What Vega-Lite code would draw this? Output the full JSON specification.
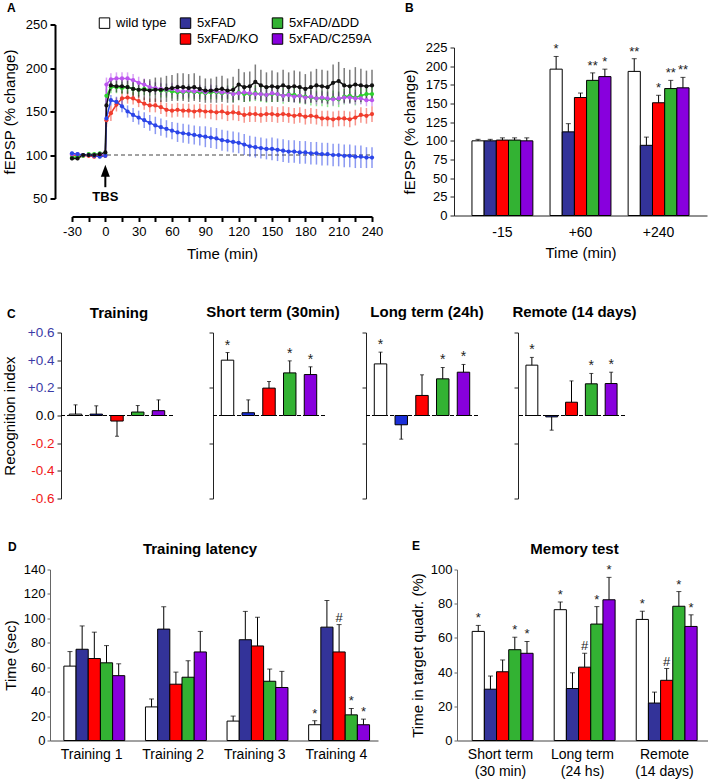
{
"$schema":"https://vega.github.io/schema/vega-lite/v6.json",
"padding":{"left":2,"top":1.5,"right":0,"bottom":0},
"background":"white",
"config":{
 "font":"Liberation Sans",
 "view":{"stroke":null},
 "axis":{"grid":false,"labelFontSize":13,"titleFontSize":15,"titleFontWeight":"normal","labelColor":"#000","titleColor":"#000","domainColor":"#333","tickColor":"#333","labelFont":"Liberation Sans","titleFont":"Liberation Sans","labelOverlap":false,"labelFlush":false},
 "title":{"fontSize":15,"fontWeight":"bold","color":"#000","baseline":"alphabetic","font":"Liberation Sans"},
 "legend":{"labelFont":"Liberation Sans"}
},
"datasets":{
 "ltp":[
{"g":"KO","t":-30,"v":100,"e":3},{"g":"KO","t":-25,"v":100,"e":2},{"g":"KO","t":-20,"v":99,"e":2},{"g":"KO","t":-15,"v":99,"e":2},{"g":"KO","t":-10,"v":98,"e":2},{"g":"KO","t":-5,"v":100,"e":2},{"g":"KO","t":0,"v":99,"e":2},{"g":"KO","t":1,"v":140,"e":8},{"g":"KO","t":5,"v":148,"e":9},{"g":"KO","t":10,"v":158,"e":8},{"g":"KO","t":15,"v":165,"e":8},{"g":"KO","t":20,"v":166,"e":7},{"g":"KO","t":25,"v":165,"e":7},{"g":"KO","t":30,"v":162,"e":7},{"g":"KO","t":35,"v":159,"e":7},{"g":"KO","t":40,"v":157,"e":8},{"g":"KO","t":45,"v":157,"e":8},{"g":"KO","t":50,"v":155,"e":8},{"g":"KO","t":55,"v":152,"e":8},{"g":"KO","t":60,"v":151,"e":8},{"g":"KO","t":65,"v":152,"e":8},{"g":"KO","t":70,"v":151,"e":8},{"g":"KO","t":75,"v":151,"e":8},{"g":"KO","t":80,"v":150,"e":8},{"g":"KO","t":85,"v":151,"e":8},{"g":"KO","t":90,"v":150,"e":8},{"g":"KO","t":95,"v":150,"e":9},{"g":"KO","t":100,"v":149,"e":9},{"g":"KO","t":105,"v":150,"e":9},{"g":"KO","t":110,"v":148,"e":9},{"g":"KO","t":115,"v":149,"e":9},{"g":"KO","t":120,"v":148,"e":9},{"g":"KO","t":125,"v":146,"e":9},{"g":"KO","t":130,"v":147,"e":9},{"g":"KO","t":135,"v":147,"e":9},{"g":"KO","t":140,"v":146,"e":9},{"g":"KO","t":145,"v":147,"e":9},{"g":"KO","t":150,"v":147,"e":9},{"g":"KO","t":155,"v":146,"e":9},{"g":"KO","t":160,"v":147,"e":9},{"g":"KO","t":165,"v":146,"e":9},{"g":"KO","t":170,"v":145,"e":9},{"g":"KO","t":175,"v":146,"e":9},{"g":"KO","t":180,"v":144,"e":9},{"g":"KO","t":185,"v":145,"e":9},{"g":"KO","t":190,"v":144,"e":9},{"g":"KO","t":195,"v":142,"e":9},{"g":"KO","t":200,"v":142,"e":9},{"g":"KO","t":205,"v":141,"e":9},{"g":"KO","t":210,"v":142,"e":9},{"g":"KO","t":215,"v":142,"e":9},{"g":"KO","t":220,"v":141,"e":9},{"g":"KO","t":225,"v":143,"e":9},{"g":"KO","t":230,"v":146,"e":9},{"g":"KO","t":235,"v":145,"e":9},{"g":"KO","t":240,"v":147,"e":9},
{"g":"DD","t":-30,"v":97,"e":2},{"g":"DD","t":-25,"v":98,"e":2},{"g":"DD","t":-20,"v":99,"e":2},{"g":"DD","t":-15,"v":101,"e":2},{"g":"DD","t":-10,"v":101,"e":2},{"g":"DD","t":-5,"v":102,"e":2},{"g":"DD","t":0,"v":101,"e":2},{"g":"DD","t":1,"v":168,"e":8},{"g":"DD","t":5,"v":178,"e":7},{"g":"DD","t":10,"v":178,"e":7},{"g":"DD","t":15,"v":177,"e":7},{"g":"DD","t":20,"v":178,"e":7},{"g":"DD","t":25,"v":176,"e":7},{"g":"DD","t":30,"v":175,"e":7},{"g":"DD","t":35,"v":176,"e":7},{"g":"DD","t":40,"v":175,"e":7},{"g":"DD","t":45,"v":176,"e":7},{"g":"DD","t":50,"v":174,"e":8},{"g":"DD","t":55,"v":174,"e":8},{"g":"DD","t":60,"v":173,"e":8},{"g":"DD","t":65,"v":172,"e":8},{"g":"DD","t":70,"v":172,"e":8},{"g":"DD","t":75,"v":173,"e":8},{"g":"DD","t":80,"v":172,"e":8},{"g":"DD","t":85,"v":172,"e":8},{"g":"DD","t":90,"v":171,"e":8},{"g":"DD","t":95,"v":172,"e":8},{"g":"DD","t":100,"v":172,"e":8},{"g":"DD","t":105,"v":171,"e":8},{"g":"DD","t":110,"v":172,"e":8},{"g":"DD","t":115,"v":170,"e":9},{"g":"DD","t":120,"v":172,"e":9},{"g":"DD","t":125,"v":170,"e":9},{"g":"DD","t":130,"v":170,"e":9},{"g":"DD","t":135,"v":171,"e":9},{"g":"DD","t":140,"v":170,"e":9},{"g":"DD","t":145,"v":169,"e":9},{"g":"DD","t":150,"v":170,"e":9},{"g":"DD","t":155,"v":170,"e":9},{"g":"DD","t":160,"v":168,"e":9},{"g":"DD","t":165,"v":170,"e":9},{"g":"DD","t":170,"v":169,"e":9},{"g":"DD","t":175,"v":168,"e":9},{"g":"DD","t":180,"v":167,"e":9},{"g":"DD","t":185,"v":166,"e":9},{"g":"DD","t":190,"v":165,"e":9},{"g":"DD","t":195,"v":165,"e":9},{"g":"DD","t":200,"v":164,"e":9},{"g":"DD","t":205,"v":165,"e":9},{"g":"DD","t":210,"v":164,"e":9},{"g":"DD","t":215,"v":167,"e":9},{"g":"DD","t":220,"v":168,"e":9},{"g":"DD","t":225,"v":166,"e":9},{"g":"DD","t":230,"v":168,"e":9},{"g":"DD","t":235,"v":170,"e":9},{"g":"DD","t":240,"v":170,"e":9},
{"g":"CA","t":-30,"v":101,"e":2},{"g":"CA","t":-25,"v":101,"e":2},{"g":"CA","t":-20,"v":100,"e":2},{"g":"CA","t":-15,"v":100,"e":2},{"g":"CA","t":-10,"v":100,"e":2},{"g":"CA","t":-5,"v":101,"e":2},{"g":"CA","t":0,"v":100,"e":2},{"g":"CA","t":1,"v":181,"e":8},{"g":"CA","t":5,"v":187,"e":7},{"g":"CA","t":10,"v":188,"e":7},{"g":"CA","t":15,"v":188,"e":7},{"g":"CA","t":20,"v":188,"e":7},{"g":"CA","t":25,"v":186,"e":7},{"g":"CA","t":30,"v":183,"e":7},{"g":"CA","t":35,"v":181,"e":7},{"g":"CA","t":40,"v":178,"e":7},{"g":"CA","t":45,"v":177,"e":7},{"g":"CA","t":50,"v":176,"e":7},{"g":"CA","t":55,"v":175,"e":7},{"g":"CA","t":60,"v":176,"e":7},{"g":"CA","t":65,"v":174,"e":7},{"g":"CA","t":70,"v":173,"e":7},{"g":"CA","t":75,"v":174,"e":7},{"g":"CA","t":80,"v":173,"e":7},{"g":"CA","t":85,"v":174,"e":7},{"g":"CA","t":90,"v":172,"e":7},{"g":"CA","t":95,"v":174,"e":7},{"g":"CA","t":100,"v":173,"e":7},{"g":"CA","t":105,"v":172,"e":7},{"g":"CA","t":110,"v":172,"e":7},{"g":"CA","t":115,"v":170,"e":7},{"g":"CA","t":120,"v":171,"e":7},{"g":"CA","t":125,"v":172,"e":7},{"g":"CA","t":130,"v":171,"e":7},{"g":"CA","t":135,"v":170,"e":7},{"g":"CA","t":140,"v":170,"e":7},{"g":"CA","t":145,"v":169,"e":7},{"g":"CA","t":150,"v":171,"e":7},{"g":"CA","t":155,"v":170,"e":7},{"g":"CA","t":160,"v":168,"e":7},{"g":"CA","t":165,"v":169,"e":7},{"g":"CA","t":170,"v":167,"e":7},{"g":"CA","t":175,"v":168,"e":7},{"g":"CA","t":180,"v":166,"e":7},{"g":"CA","t":185,"v":167,"e":7},{"g":"CA","t":190,"v":165,"e":7},{"g":"CA","t":195,"v":166,"e":7},{"g":"CA","t":200,"v":165,"e":7},{"g":"CA","t":205,"v":164,"e":7},{"g":"CA","t":210,"v":165,"e":7},{"g":"CA","t":215,"v":166,"e":7},{"g":"CA","t":220,"v":166,"e":7},{"g":"CA","t":225,"v":165,"e":7},{"g":"CA","t":230,"v":165,"e":7},{"g":"CA","t":235,"v":163,"e":7},{"g":"CA","t":240,"v":163,"e":7},
{"g":"FAD","t":-30,"v":102,"e":2},{"g":"FAD","t":-25,"v":101,"e":2},{"g":"FAD","t":-20,"v":100,"e":2},{"g":"FAD","t":-15,"v":100,"e":2},{"g":"FAD","t":-10,"v":99,"e":2},{"g":"FAD","t":-5,"v":98,"e":2},{"g":"FAD","t":0,"v":99,"e":2},{"g":"FAD","t":1,"v":142,"e":6},{"g":"FAD","t":5,"v":163,"e":6},{"g":"FAD","t":10,"v":161,"e":6},{"g":"FAD","t":15,"v":156,"e":7},{"g":"FAD","t":20,"v":150,"e":7},{"g":"FAD","t":25,"v":146,"e":8},{"g":"FAD","t":30,"v":143,"e":8},{"g":"FAD","t":35,"v":140,"e":9},{"g":"FAD","t":40,"v":137,"e":9},{"g":"FAD","t":45,"v":134,"e":10},{"g":"FAD","t":50,"v":132,"e":10},{"g":"FAD","t":55,"v":130,"e":10},{"g":"FAD","t":60,"v":128,"e":10},{"g":"FAD","t":65,"v":126,"e":11},{"g":"FAD","t":70,"v":125,"e":11},{"g":"FAD","t":75,"v":124,"e":11},{"g":"FAD","t":80,"v":123,"e":11},{"g":"FAD","t":85,"v":122,"e":11},{"g":"FAD","t":90,"v":121,"e":12},{"g":"FAD","t":95,"v":120,"e":12},{"g":"FAD","t":100,"v":119,"e":12},{"g":"FAD","t":105,"v":117,"e":12},{"g":"FAD","t":110,"v":116,"e":12},{"g":"FAD","t":115,"v":115,"e":12},{"g":"FAD","t":120,"v":114,"e":12},{"g":"FAD","t":125,"v":112,"e":12},{"g":"FAD","t":130,"v":110,"e":12},{"g":"FAD","t":135,"v":109,"e":12},{"g":"FAD","t":140,"v":108,"e":12},{"g":"FAD","t":145,"v":107,"e":12},{"g":"FAD","t":150,"v":107,"e":13},{"g":"FAD","t":155,"v":106,"e":13},{"g":"FAD","t":160,"v":105,"e":13},{"g":"FAD","t":165,"v":104,"e":13},{"g":"FAD","t":170,"v":104,"e":13},{"g":"FAD","t":175,"v":103,"e":13},{"g":"FAD","t":180,"v":103,"e":13},{"g":"FAD","t":185,"v":102,"e":13},{"g":"FAD","t":190,"v":102,"e":13},{"g":"FAD","t":195,"v":101,"e":13},{"g":"FAD","t":200,"v":101,"e":13},{"g":"FAD","t":205,"v":100,"e":13},{"g":"FAD","t":210,"v":100,"e":13},{"g":"FAD","t":215,"v":99,"e":13},{"g":"FAD","t":220,"v":99,"e":13},{"g":"FAD","t":225,"v":98,"e":13},{"g":"FAD","t":230,"v":98,"e":13},{"g":"FAD","t":235,"v":97,"e":12},{"g":"FAD","t":240,"v":97,"e":12},
{"g":"WT","t":-30,"v":96,"e":2},{"g":"WT","t":-25,"v":96,"e":2},{"g":"WT","t":-20,"v":100,"e":2},{"g":"WT","t":-15,"v":100,"e":2},{"g":"WT","t":-10,"v":100,"e":2},{"g":"WT","t":-5,"v":101,"e":2},{"g":"WT","t":0,"v":103,"e":2},{"g":"WT","t":1,"v":157,"e":8},{"g":"WT","t":5,"v":180,"e":6},{"g":"WT","t":10,"v":179,"e":7},{"g":"WT","t":15,"v":179,"e":8},{"g":"WT","t":20,"v":178,"e":8},{"g":"WT","t":25,"v":176,"e":9},{"g":"WT","t":30,"v":175,"e":9},{"g":"WT","t":35,"v":175,"e":12},{"g":"WT","t":40,"v":174,"e":13},{"g":"WT","t":45,"v":175,"e":14},{"g":"WT","t":50,"v":175,"e":14},{"g":"WT","t":55,"v":176,"e":15},{"g":"WT","t":60,"v":177,"e":15},{"g":"WT","t":65,"v":178,"e":16},{"g":"WT","t":70,"v":178,"e":16},{"g":"WT","t":75,"v":177,"e":16},{"g":"WT","t":80,"v":178,"e":16},{"g":"WT","t":85,"v":176,"e":15},{"g":"WT","t":90,"v":174,"e":14},{"g":"WT","t":95,"v":174,"e":14},{"g":"WT","t":100,"v":175,"e":15},{"g":"WT","t":105,"v":176,"e":15},{"g":"WT","t":110,"v":174,"e":14},{"g":"WT","t":115,"v":175,"e":15},{"g":"WT","t":120,"v":181,"e":18},{"g":"WT","t":125,"v":178,"e":17},{"g":"WT","t":130,"v":179,"e":17},{"g":"WT","t":135,"v":184,"e":20},{"g":"WT","t":140,"v":180,"e":18},{"g":"WT","t":145,"v":178,"e":17},{"g":"WT","t":150,"v":179,"e":18},{"g":"WT","t":155,"v":178,"e":17},{"g":"WT","t":160,"v":180,"e":18},{"g":"WT","t":165,"v":178,"e":17},{"g":"WT","t":170,"v":179,"e":18},{"g":"WT","t":175,"v":178,"e":18},{"g":"WT","t":180,"v":176,"e":17},{"g":"WT","t":185,"v":178,"e":18},{"g":"WT","t":190,"v":180,"e":19},{"g":"WT","t":195,"v":179,"e":19},{"g":"WT","t":200,"v":178,"e":19},{"g":"WT","t":205,"v":183,"e":21},{"g":"WT","t":210,"v":185,"e":22},{"g":"WT","t":215,"v":180,"e":20},{"g":"WT","t":220,"v":179,"e":19},{"g":"WT","t":225,"v":181,"e":20},{"g":"WT","t":230,"v":180,"e":19},{"g":"WT","t":235,"v":179,"e":18},{"g":"WT","t":240,"v":180,"e":18}
 ],
 "b":[
{"t":"-15","g":"wild type","v":100,"hi":102},{"t":"-15","g":"5xFAD","v":100,"hi":102},{"t":"-15","g":"5xFAD/KO","v":101,"hi":104},{"t":"-15","g":"5xFAD/ΔDD","v":101,"hi":104},{"t":"-15","g":"5xFAD/C259A","v":100,"hi":104},
{"t":"+60","g":"wild type","v":196,"hi":213,"s":"*"},{"t":"+60","g":"5xFAD","v":112,"hi":123},{"t":"+60","g":"5xFAD/KO","v":158,"hi":164},{"t":"+60","g":"5xFAD/ΔDD","v":181,"hi":191,"s":"**"},{"t":"+60","g":"5xFAD/C259A","v":186,"hi":196,"s":"*"},
{"t":"+240","g":"wild type","v":193,"hi":210,"s":"**"},{"t":"+240","g":"5xFAD","v":94,"hi":105},{"t":"+240","g":"5xFAD/KO","v":151,"hi":161,"s":"*"},{"t":"+240","g":"5xFAD/ΔDD","v":170,"hi":181,"s":"**"},{"t":"+240","g":"5xFAD/C259A","v":171,"hi":185,"s":"**"}
 ],
 "c":[
{"p":"Training","g":"wild type","v":0.01,"hi":0.077},{"p":"Training","g":"5xFAD","v":0.01,"hi":0.07},{"p":"Training","g":"5xFAD/KO","v":-0.04,"hi":-0.15},{"p":"Training","g":"5xFAD/ΔDD","v":0.025,"hi":0.072},{"p":"Training","g":"5xFAD/C259A","v":0.035,"hi":0.113},
{"p":"Short","g":"wild type","v":0.4,"hi":0.455,"s":"*"},{"p":"Short","g":"5xFAD","v":0.02,"hi":0.113},{"p":"Short","g":"5xFAD/KO","v":0.198,"hi":0.246},{"p":"Short","g":"5xFAD/ΔDD","v":0.308,"hi":0.395,"s":"*"},{"p":"Short","g":"5xFAD/C259A","v":0.296,"hi":0.352,"s":"*"},
{"p":"Long","g":"wild type","v":0.373,"hi":0.458,"s":"*"},{"p":"Long","g":"5xFAD","v":-0.067,"hi":-0.171},{"p":"Long","g":"5xFAD/KO","v":0.145,"hi":0.294},{"p":"Long","g":"5xFAD/ΔDD","v":0.265,"hi":0.347,"s":"*"},{"p":"Long","g":"5xFAD/C259A","v":0.313,"hi":0.369,"s":"*"},
{"p":"Remote","g":"wild type","v":0.364,"hi":0.42,"s":"*"},{"p":"Remote","g":"5xFAD","v":-0.01,"hi":-0.106},{"p":"Remote","g":"5xFAD/KO","v":0.096,"hi":0.25},{"p":"Remote","g":"5xFAD/ΔDD","v":0.229,"hi":0.304,"s":"*"},{"p":"Remote","g":"5xFAD/C259A","v":0.231,"hi":0.313,"s":"*"}
 ],
 "d":[
{"c":"Training 1","g":"wild type","v":60.9,"hi":72.8},{"c":"Training 1","g":"5xFAD","v":74.7,"hi":93.8},{"c":"Training 1","g":"5xFAD/KO","v":67.1,"hi":88.7},{"c":"Training 1","g":"5xFAD/ΔDD","v":63.6,"hi":77.7},{"c":"Training 1","g":"5xFAD/C259A","v":53.1,"hi":62.8},
{"c":"Training 2","g":"wild type","v":27.5,"hi":34},{"c":"Training 2","g":"5xFAD","v":91.2,"hi":109.5},{"c":"Training 2","g":"5xFAD/KO","v":46.1,"hi":56},{"c":"Training 2","g":"5xFAD/ΔDD","v":51.8,"hi":65.3},{"c":"Training 2","g":"5xFAD/C259A","v":72.5,"hi":89.3},
{"c":"Training 3","g":"wild type","v":15.9,"hi":20},{"c":"Training 3","g":"5xFAD","v":82.5,"hi":105.7},{"c":"Training 3","g":"5xFAD/KO","v":77.4,"hi":100.9},{"c":"Training 3","g":"5xFAD/ΔDD","v":48.5,"hi":58.5},{"c":"Training 3","g":"5xFAD/C259A","v":43.4,"hi":56.6},
{"c":"Training 4","g":"wild type","v":12.9,"hi":16.2,"s":"*"},{"c":"Training 4","g":"5xFAD","v":92.8,"hi":114.6},{"c":"Training 4","g":"5xFAD/KO","v":72.5,"hi":94.9,"s":"#"},{"c":"Training 4","g":"5xFAD/ΔDD","v":21,"hi":26.2,"s":"*"},{"c":"Training 4","g":"5xFAD/C259A","v":12.9,"hi":17.5,"s":"*"}
 ],
 "e":[
{"c":"Short term|(30 min)","g":"wild type","v":63.8,"hi":67.3,"s":"*"},{"c":"Short term|(30 min)","g":"5xFAD","v":30,"hi":37.7},{"c":"Short term|(30 min)","g":"5xFAD/KO","v":40.2,"hi":47.1},{"c":"Short term|(30 min)","g":"5xFAD/ΔDD","v":53.1,"hi":60.4,"s":"*"},{"c":"Short term|(30 min)","g":"5xFAD/C259A","v":51,"hi":57.9,"s":"*"},
{"c":"Long term|(24 hs)","g":"wild type","v":76.5,"hi":81,"s":"*"},{"c":"Long term|(24 hs)","g":"5xFAD","v":30.4,"hi":39.6},{"c":"Long term|(24 hs)","g":"5xFAD/KO","v":42.9,"hi":51,"s":"#"},{"c":"Long term|(24 hs)","g":"5xFAD/ΔDD","v":68.1,"hi":78.3,"s":"*"},{"c":"Long term|(24 hs)","g":"5xFAD/C259A","v":82.3,"hi":95.4,"s":"*"},
{"c":"Remote|(14 days)","g":"wild type","v":70.8,"hi":75.6,"s":"*"},{"c":"Remote|(14 days)","g":"5xFAD","v":21.9,"hi":28.3},{"c":"Remote|(14 days)","g":"5xFAD/KO","v":35.2,"hi":42.1,"s":"#"},{"c":"Remote|(14 days)","g":"5xFAD/ΔDD","v":78.5,"hi":87.1,"s":"*"},{"c":"Remote|(14 days)","g":"5xFAD/C259A","v":66.7,"hi":73.5,"s":"*"}
 ]
},
"resolve":{"scale":{"color":"independent"}},
"spacing":0,
"vconcat":[
 {"bounds":"flush","spacing":0,"hconcat":[
  {"width":23,"height":174,"data":{"values":[]},"mark":"point","encoding":{},"title":{"text":"A","fontSize":12,"anchor":"start","frame":"group","align":"left","offset":9.5,"dx":-42}},
  {"width":300,"height":174,
   "encoding":{
    "x":{"field":"t","type":"quantitative","title":"Time (min)","scale":{"domain":[-30,240],"nice":false,"zero":false},
         "axis":{"values":[-30,-15,0,15,30,45,60,75,90,105,120,135,150,165,180,195,210,225,240],"labelExpr":"datum.value % 30 === 0 ? replace(datum.label, '\u2212', '-') : ''","labelFlush":false,"offset":18,"domainColor":"#000","domainWidth":2,"tickColor":"#000","tickWidth":2,"tickSize":5,"labelPadding":4,"titlePadding":8}},
    "y":{"field":"v","type":"quantitative","title":"fEPSP (% change)","scale":{"domain":[50,250],"nice":false,"zero":false},
         "axis":{"values":[50,100,150,200,250],"offset":17,"domainColor":"#000","domainWidth":2,"tickColor":"#000","tickWidth":2,"tickSize":5,"labelPadding":3,"titlePadding":8}}
   },
   "layer":[
    {"data":{"values":[{"t":-30,"t2":240,"v":100}]},"mark":{"type":"rule","strokeDash":[4,3],"color":"#444","strokeWidth":1},"encoding":{"x2":{"field":"t2"}}},
    {"data":{"name":"ltp"},"mark":{"type":"errorbar","ticks":false,"thickness":1.5,"opacity":0.55},"encoding":{"yError":{"field":"e"},"color":{"field":"g","type":"nominal","scale":{"domain":["WT","FAD","KO","DD","CA"],"range":["#111111","#2b45e8","#f03c2c","#2dd12d","#bb55ee"]},"legend":null}}},
    {"data":{"name":"ltp"},"mark":{"type":"line","strokeWidth":1.5},"encoding":{"color":{"field":"g","type":"nominal","scale":{"domain":["WT","FAD","KO","DD","CA"],"range":["#111111","#2b45e8","#f03c2c","#2dd12d","#bb55ee"]},"legend":null}}},
    {"data":{"name":"ltp"},"mark":{"type":"point","filled":true,"size":18,"opacity":1},"encoding":{"color":{"field":"g","type":"nominal","scale":{"domain":["WT","FAD","KO","DD","CA"],"range":["#111111","#2b45e8","#f03c2c","#2dd12d","#bb55ee"]},"legend":null}}},
    {"data":{"values":[{"t":0,"v":63,"v2":82}]},"mark":{"type":"rule","color":"#000","strokeWidth":2},"encoding":{"y2":{"field":"v2"}}},
    {"data":{"values":[{"t":0,"v":82}]},"mark":{"type":"point","shape":"M0,-1L0.75,1L-0.75,1Z","size":144,"filled":true,"color":"#000","opacity":1}},
    {"data":{"values":[{"t":0,"v":51.5,"label":"TBS"}]},"mark":{"type":"text","fontSize":13,"fontWeight":"bold","baseline":"middle","color":"#000"},"encoding":{"text":{"field":"label"}}}
   ]
  },
  {"width":82,"height":1,"data":{"values":[]},"mark":"point","encoding":{}},
  {"bounds":"flush","spacing":0,"vconcat":[
   {"width":253,"height":23,"data":{"values":[]},"mark":"point","encoding":{},"title":{"text":"B","fontSize":12,"anchor":"start","frame":"group","align":"left","offset":9.5,"dx":-49}},
   {"width":253,"height":168,"data":{"name":"b"},
    "encoding":{
     "x":{"field":"t","type":"nominal","title":"Time (min)","scale":{"domain":["-15","+60","+240"],"paddingInner":0.22,"paddingOuter":0.23},"axis":{"labelAngle":0,"ticks":false,"labelPadding":10,"labelFontSize":14,"titlePadding":6,"domainColor":"#222"}},
     "xOffset":{"field":"g","type":"nominal","scale":{"domain":["wild type","5xFAD","5xFAD/KO","5xFAD/ΔDD","5xFAD/C259A"],"paddingInner":0,"paddingOuter":0}},
     "y":{"field":"v","type":"quantitative","title":"fEPSP (% change)","scale":{"domain":[0,225],"nice":false},"axis":{"values":[0,25,50,75,100,125,150,175,200,225],"tickSize":4,"labelPadding":3,"titlePadding":8,"domainColor":"#222","tickColor":"#222"}}
    },
    "layer":[
     {"mark":{"type":"bar","stroke":"#000","strokeWidth":1},"encoding":{"fill":{"field":"g","type":"nominal","scale":{"domain":["wild type","5xFAD","5xFAD/ΔDD"," ","5xFAD/KO","5xFAD/C259A"],"range":["#ffffff","#333399","#33b233","#ffffff","#ff0000","#8800dd"]},
       "legend":{"orient":"none","legendX":49,"legendY":-8,"direction":"horizontal","columns":3,"title":null,"symbolType":"square","symbolSize":110,"labelFontSize":13,"labelColor":"#000","labelOffset":5,"columnPadding":11,"rowPadding":1,"symbolStrokeColor":"#000","symbolStrokeWidth":1,
        "encode":{"symbols":{"update":{"opacity":{"signal":"datum.value === ' ' ? 0 : 1"},"stroke":{"value":"#000"},"strokeWidth":{"value":1}}}}}}}},
     {"mark":{"type":"rule","color":"#000","strokeWidth":1},"encoding":{"y2":{"field":"hi"}}},
     {"mark":{"type":"tick","color":"#000","thickness":1,"size":5},"encoding":{"y":{"field":"hi","type":"quantitative"}}},
     {"transform":[{"filter":"isValid(datum.s)"}],"mark":{"type":"text","dy":-3,"fontSize":13,"color":"#222","baseline":"alphabetic"},"encoding":{"y":{"field":"hi","type":"quantitative"},"text":{"field":"s"}}}
    ]
   }
  ]}
 ]},
 {"width":1,"height":43,"data":{"values":[]},"mark":"point","encoding":{}},
 {"bounds":"flush","spacing":0,"hconcat":[
  {"width":12,"height":166,"data":{"values":[]},"mark":"point","encoding":{},"title":{"text":"C","fontSize":12,"anchor":"start","frame":"group","align":"left","offset":12,"dx":-42}},
  {"width":112,"height":166,"data":{"name":"c"},"transform":[{"filter":"datum.p === 'Training'"}],
   "title":{"text":"Training","anchor":"middle","frame":"group","offset":5,"dx":2},
   "encoding":{
     "y":{"field":"v","type":"quantitative","title":"Recognition index","scale":{"domain":[-0.6,0.6],"nice":false,"zero":false},
          "axis":{"values":[-0.6,-0.4,-0.2,0,0.2,0.4,0.6],"labelExpr":"datum.value > 0.001 ? '+' + format(datum.value, '.1f') : replace(format(datum.value, '.1f'), '\u2212', '-')","labelOverlap":false,"labelFontSize":13.5,"tickSize":4,"labelPadding":3,"titlePadding":10,"domainColor":"#222","tickColor":"#222",
                  "labelColor":{"condition":[{"test":"datum.value > 0.001","value":"#3a3aa6"},{"test":"datum.value < -0.001","value":"#f01818"}],"value":"#000000"}}}
   },
   "layer":[
    {"data":{"values":[{"v":0}]},"mark":{"type":"rule","strokeDash":[4,2],"color":"#000","strokeWidth":1}},
    {"mark":{"type":"bar","stroke":"#000","strokeWidth":1},"encoding":{
      "x":{"field":"g","type":"nominal","scale":{"domain":["wild type","5xFAD","5xFAD/KO","5xFAD/ΔDD","5xFAD/C259A"],"paddingInner":0.4,"paddingOuter":0.4},"axis":null},
      "color":{"field":"g","type":"nominal","scale":{"domain":["wild type","5xFAD","5xFAD/KO","5xFAD/ΔDD","5xFAD/C259A"],"range":["#ffffff","#1a2fd8","#ff0000","#33b233","#8800dd"]},"legend":null}}},
    {"mark":{"type":"rule","color":"#000","strokeWidth":1},"encoding":{"x":{"field":"g","type":"nominal"},"y2":{"field":"hi"}}},
    {"transform":[{"fold":["hi"],"as":["k","v"]}],"mark":{"type":"tick","color":"#000","thickness":1,"size":4},"encoding":{"x":{"field":"g","type":"nominal"}}},
    {"transform":[{"filter":"isValid(datum.s)"},{"fold":["hi"],"as":["k","v"]}],"mark":{"type":"text","dy":-3,"fontSize":14,"color":"#222","baseline":"alphabetic"},"encoding":{"x":{"field":"g","type":"nominal"},"text":{"field":"s"}}}
   ]},
  {"width":40,"height":1,"data":{"values":[]},"mark":"point","encoding":{}},
  {"width":112,"height":166,"data":{"name":"c"},"transform":[{"filter":"datum.p === 'Short'"}],
   "title":{"text":"Short term (30min)","anchor":"middle","frame":"group","offset":12,"dx":4},
   "layer":[
    {"data":{"values":[{}]},"mark":{"type":"rule","strokeDash":[4,2],"color":"#000","strokeWidth":1},"encoding":{"y":{"datum":0,"type":"quantitative"}}},
    {"mark":{"type":"bar","stroke":"#000","strokeWidth":1},"encoding":{
      "x":{"field":"g","type":"nominal","scale":{"domain":["wild type","5xFAD","5xFAD/KO","5xFAD/ΔDD","5xFAD/C259A"],"paddingInner":0.4,"paddingOuter":0.4},"axis":null},
      "y":{"field":"v","type":"quantitative","title":null,"scale":{"domain":[-0.6,0.6],"nice":false,"zero":false},"axis":{"values":[-0.6,-0.4,-0.2,0,0.2,0.4,0.6],"labels":false,"tickSize":4,"domainColor":"#222","tickColor":"#222"}},
      "color":{"field":"g","type":"nominal","scale":{"domain":["wild type","5xFAD","5xFAD/KO","5xFAD/ΔDD","5xFAD/C259A"],"range":["#ffffff","#1a2fd8","#ff0000","#33b233","#8800dd"]},"legend":null}}},
    {"mark":{"type":"rule","color":"#000","strokeWidth":1},"encoding":{"x":{"field":"g","type":"nominal"},"y":{"field":"v","type":"quantitative"},"y2":{"field":"hi"}}},
    {"mark":{"type":"tick","color":"#000","thickness":1,"size":4},"encoding":{"x":{"field":"g","type":"nominal"},"y":{"field":"hi","type":"quantitative"}}},
    {"transform":[{"filter":"isValid(datum.s)"}],"mark":{"type":"text","dy":-3,"fontSize":14,"color":"#222","baseline":"alphabetic"},"encoding":{"x":{"field":"g","type":"nominal"},"y":{"field":"hi","type":"quantitative"},"text":{"field":"s"}}}
   ]},
  {"width":41,"height":1,"data":{"values":[]},"mark":"point","encoding":{}},
  {"width":112,"height":166,"data":{"name":"c"},"transform":[{"filter":"datum.p === 'Long'"}],
   "title":{"text":"Long term (24h)","anchor":"middle","frame":"group","offset":12,"dx":5},
   "layer":[
    {"data":{"values":[{}]},"mark":{"type":"rule","strokeDash":[4,2],"color":"#000","strokeWidth":1},"encoding":{"y":{"datum":0,"type":"quantitative"}}},
    {"mark":{"type":"bar","stroke":"#000","strokeWidth":1},"encoding":{
      "x":{"field":"g","type":"nominal","scale":{"domain":["wild type","5xFAD","5xFAD/KO","5xFAD/ΔDD","5xFAD/C259A"],"paddingInner":0.4,"paddingOuter":0.4},"axis":null},
      "y":{"field":"v","type":"quantitative","title":null,"scale":{"domain":[-0.6,0.6],"nice":false,"zero":false},"axis":{"values":[-0.6,-0.4,-0.2,0,0.2,0.4,0.6],"labels":false,"tickSize":4,"domainColor":"#222","tickColor":"#222"}},
      "color":{"field":"g","type":"nominal","scale":{"domain":["wild type","5xFAD","5xFAD/KO","5xFAD/ΔDD","5xFAD/C259A"],"range":["#ffffff","#1a2fd8","#ff0000","#33b233","#8800dd"]},"legend":null}}},
    {"mark":{"type":"rule","color":"#000","strokeWidth":1},"encoding":{"x":{"field":"g","type":"nominal"},"y":{"field":"v","type":"quantitative"},"y2":{"field":"hi"}}},
    {"mark":{"type":"tick","color":"#000","thickness":1,"size":4},"encoding":{"x":{"field":"g","type":"nominal"},"y":{"field":"hi","type":"quantitative"}}},
    {"transform":[{"filter":"isValid(datum.s)"}],"mark":{"type":"text","dy":-3,"fontSize":14,"color":"#222","baseline":"alphabetic"},"encoding":{"x":{"field":"g","type":"nominal"},"y":{"field":"hi","type":"quantitative"},"text":{"field":"s"}}}
   ]},
  {"width":40,"height":1,"data":{"values":[]},"mark":"point","encoding":{}},
  {"width":107,"height":166,"data":{"name":"c"},"transform":[{"filter":"datum.p === 'Remote'"}],
   "title":{"text":"Remote (14 days)","anchor":"middle","frame":"group","offset":12,"dx":3},
   "layer":[
    {"data":{"values":[{}]},"mark":{"type":"rule","strokeDash":[4,2],"color":"#000","strokeWidth":1},"encoding":{"y":{"datum":0,"type":"quantitative"}}},
    {"mark":{"type":"bar","stroke":"#000","strokeWidth":1},"encoding":{
      "x":{"field":"g","type":"nominal","scale":{"domain":["wild type","5xFAD","5xFAD/KO","5xFAD/ΔDD","5xFAD/C259A"],"paddingInner":0.4,"paddingOuter":0.4},"axis":null},
      "y":{"field":"v","type":"quantitative","title":null,"scale":{"domain":[-0.6,0.6],"nice":false,"zero":false},"axis":{"values":[-0.6,-0.4,-0.2,0,0.2,0.4,0.6],"labels":false,"tickSize":4,"domainColor":"#222","tickColor":"#222"}},
      "color":{"field":"g","type":"nominal","scale":{"domain":["wild type","5xFAD","5xFAD/KO","5xFAD/ΔDD","5xFAD/C259A"],"range":["#ffffff","#1a2fd8","#ff0000","#33b233","#8800dd"]},"legend":null}}},
    {"mark":{"type":"rule","color":"#000","strokeWidth":1},"encoding":{"x":{"field":"g","type":"nominal"},"y":{"field":"v","type":"quantitative"},"y2":{"field":"hi"}}},
    {"mark":{"type":"tick","color":"#000","thickness":1,"size":4},"encoding":{"x":{"field":"g","type":"nominal"},"y":{"field":"hi","type":"quantitative"}}},
    {"transform":[{"filter":"isValid(datum.s)"}],"mark":{"type":"text","dy":-3,"fontSize":14,"color":"#222","baseline":"alphabetic"},"encoding":{"x":{"field":"g","type":"nominal"},"y":{"field":"hi","type":"quantitative"},"text":{"field":"s"}}}
   ]}
 ]},
 {"width":1,"height":33.5,"data":{"values":[]},"mark":"point","encoding":{}},
 {"bounds":"flush","spacing":0,"hconcat":[
  {"width":1,"height":171,"data":{"values":[]},"mark":"point","encoding":{},"title":{"text":"D","fontSize":12,"anchor":"start","frame":"group","align":"left","offset":15.5,"dx":-41}},
  {"width":328,"height":171,"data":{"name":"d"},
   "title":{"text":"Training latency","anchor":"middle","frame":"group","offset":7,"dx":-14},
   "encoding":{
    "x":{"field":"c","type":"nominal","title":null,"scale":{"domain":["Training 1","Training 2","Training 3","Training 4"],"paddingInner":0.32,"paddingOuter":0.17},"axis":{"labelAngle":0,"ticks":false,"labelPadding":7,"labelFontSize":14,"domainColor":"#444"}},
    "xOffset":{"field":"g","type":"nominal","scale":{"domain":["wild type","5xFAD","5xFAD/KO","5xFAD/ΔDD","5xFAD/C259A"],"paddingInner":0,"paddingOuter":0}},
    "y":{"field":"v","type":"quantitative","title":"Time (sec)","scale":{"domain":[0,140],"nice":false},"axis":{"values":[0,20,40,60,80,100,120,140],"tickSize":3,"labelPadding":2,"titlePadding":5,"domainColor":"#666","tickColor":"#666"}}
   },
   "layer":[
    {"mark":{"type":"bar","stroke":"#000","strokeWidth":1},"encoding":{"fill":{"field":"g","type":"nominal","scale":{"domain":["wild type","5xFAD","5xFAD/ΔDD"," ","5xFAD/KO","5xFAD/C259A"],"range":["#ffffff","#333399","#33b233","#ffffff","#ff0000","#8800dd"]}}}},
    {"mark":{"type":"rule","color":"#000","strokeWidth":1},"encoding":{"y2":{"field":"hi"}}},
    {"mark":{"type":"tick","color":"#000","thickness":1,"size":5},"encoding":{"y":{"field":"hi","type":"quantitative"}}},
    {"transform":[{"filter":"isValid(datum.s)"}],"mark":{"type":"text","dy":-3,"fontSize":13,"color":"#222","baseline":"alphabetic"},"encoding":{"y":{"field":"hi","type":"quantitative"},"text":{"field":"s"}}}
   ]
  },
  {"width":78,"height":1,"data":{"values":[]},"mark":"point","encoding":{}},
  {"width":1,"height":171,"data":{"values":[]},"mark":"point","encoding":{},"title":{"text":"E","fontSize":12,"anchor":"start","frame":"group","align":"left","offset":16.5,"dx":-44}},
  {"width":251,"height":171,"data":{"name":"e"},
   "title":{"text":"Memory test","anchor":"middle","frame":"group","offset":7,"dx":-8},
   "encoding":{
    "x":{"field":"c","type":"nominal","title":null,"scale":{"domain":["Short term|(30 min)","Long term|(24 hs)","Remote|(14 days)"],"paddingInner":0.31,"paddingOuter":0.185},"axis":{"labelAngle":0,"ticks":false,"labelPadding":7,"labelFontSize":14,"labelLineHeight":17,"labelExpr":"split(datum.label, '|')","domainColor":"#444"}},
    "xOffset":{"field":"g","type":"nominal","scale":{"domain":["wild type","5xFAD","5xFAD/KO","5xFAD/ΔDD","5xFAD/C259A"],"paddingInner":0,"paddingOuter":0}},
    "y":{"field":"v","type":"quantitative","title":"Time in target quadr. (%)","scale":{"domain":[0,100],"nice":false},"axis":{"values":[0,20,40,60,80,100],"tickSize":3,"labelPadding":2,"titlePadding":5,"domainColor":"#666","tickColor":"#666"}}
   },
   "layer":[
    {"mark":{"type":"bar","stroke":"#000","strokeWidth":1},"encoding":{"fill":{"field":"g","type":"nominal","scale":{"domain":["wild type","5xFAD","5xFAD/ΔDD"," ","5xFAD/KO","5xFAD/C259A"],"range":["#ffffff","#333399","#33b233","#ffffff","#ff0000","#8800dd"]}}}},
    {"mark":{"type":"rule","color":"#000","strokeWidth":1},"encoding":{"y2":{"field":"hi"}}},
    {"mark":{"type":"tick","color":"#000","thickness":1,"size":5},"encoding":{"y":{"field":"hi","type":"quantitative"}}},
    {"transform":[{"filter":"isValid(datum.s)"}],"mark":{"type":"text","dy":-3,"fontSize":13,"color":"#222","baseline":"alphabetic"},"encoding":{"y":{"field":"hi","type":"quantitative"},"text":{"field":"s"}}}
   ]
  }
 ]}
]
}
